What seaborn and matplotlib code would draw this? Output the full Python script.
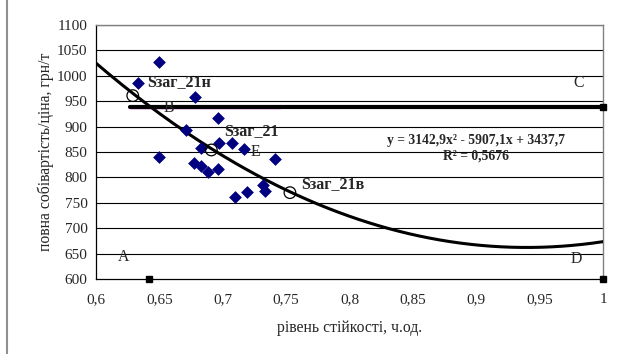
import numpy as np
import pandas as pd
import matplotlib.pyplot as plt
import seaborn as sns
from matplotlib.lines import Line2D

# --- data ---
stab_x = [0.650, 0.633, 0.678, 0.696, 0.671, 0.697, 0.7075, 0.683, 0.717, 0.741,
          0.650, 0.677, 0.683, 0.688, 0.696, 0.710, 0.719, 0.732, 0.733]
cost_y = [1027, 986, 959, 916, 893, 867, 867, 857, 855, 836,
          840, 829, 822, 810, 816, 762, 772, 786, 773]

# trend line coefficients printed on the chart (a*x^2 + b*x + c)
trend_coef = [3142.9, -5907.1, 3437.7]

# points on the trend line (open circles)
circle_x = [0.629, 0.691, 0.753]
circle_y = [961, 854, 770]

# threshold line and corner markers
level_y = 939
level_x = [0.627, 1.0]
magenta_x = [0.627, 0.745]
corner_x = [0.642, 1.0]
corner_y = [600, 600]

xticks = [0.6, 0.65, 0.7, 0.75, 0.8, 0.85, 0.9, 0.95, 1.0]
xtick_labels = ['0,6', '0,65', '0,7', '0,75', '0,8', '0,85', '0,9', '0,95', '1']
yticks = list(range(600, 1101, 50))

sns.set_theme(style='white')
plt.rcParams['font.family'] = ['Liberation Serif', 'DejaVu Serif']

fig = plt.figure(figsize=(6.24, 3.54), dpi=100)
ax = fig.add_axes([96 / 624, 1 - 279 / 354, 507 / 624, 254 / 354])

# grid
for yv in yticks[1:]:
    ax.axhline(yv, color='black', linewidth=0.8, zorder=1)

# trend curve
xs = np.linspace(0.6, 1.0, 200)
trend_df = pd.DataFrame({'x': xs, 'y': np.polyval(trend_coef, xs)})
sns.lineplot(data=trend_df, x='x', y='y', color='black', linewidth=2.2, ax=ax, zorder=4)

# horizontal level line
ax.plot(magenta_x, [level_y - 2, level_y - 2], color='#e000e0', linewidth=1.0, zorder=2)
ax.plot(level_x, [level_y, level_y], color='black', linewidth=3.0, zorder=3)
ax.plot([1.0], [level_y], marker='s', color='black', markersize=5, clip_on=False, zorder=5)
ax.plot(corner_x, corner_y, linestyle='none', marker='s', color='black', markersize=5,
        clip_on=False, zorder=5)

# scatter
pts = pd.DataFrame({'x': stab_x, 'y': cost_y})
sns.scatterplot(data=pts, x='x', y='y', marker='D', s=36, color='#000080',
                edgecolor='#000080', ax=ax, zorder=5)

# open circles on the curve
ax.scatter(circle_x, circle_y, s=70, facecolors='none', edgecolors='black', linewidths=0.9, zorder=6)

# annotations
bold = dict(fontsize=11.5, fontweight='bold')
ax.text(0.6405, 988, 'Sзаг_21н', ha='left', va='center', **bold)
ax.text(0.701, 891, 'Sзаг_21', ha='left', va='center', **bold)
ax.text(0.762, 787, 'Sзаг_21в', ha='left', va='center', **bold)
ax.text(0.653, 937, 'B', ha='left', va='center', fontsize=11.3)
ax.text(0.722, 850, 'E', ha='left', va='center', fontsize=11.3)
ax.text(0.981, 985, 'C', ha='center', va='center', fontsize=11.3)
ax.text(0.622, 643, 'A', ha='center', va='center', fontsize=11.3)
ax.text(0.979, 640, 'D', ha='center', va='center', fontsize=11.3)
ax.text(0.9, 873, 'y = 3142,9x² - 5907,1x + 3437,7', ha='center', va='center', fontsize=9.8, fontweight='bold')
ax.text(0.9, 842, 'R² = 0,5676', ha='center', va='center', fontsize=9.8, fontweight='bold')

ax.set_xlim(0.6, 1.0)
ax.set_ylim(600, 1100)
ax.set_xticks(xticks)
ax.set_xticklabels(xtick_labels)
ax.set_yticks(yticks)
ax.tick_params(axis='x', direction='out', length=4, width=0.8, color='black', labelsize=11, pad=6)
ax.tick_params(axis='y', direction='inout', length=6, width=0.8, color='black', labelsize=11, pad=3)
ax.set_xlabel('рівень стійкості, ч.од.', fontsize=11.3, labelpad=10)
ax.set_ylabel('повна собівартість/ціна, грн/т', fontsize=11.3, labelpad=2)

for side in ['top', 'right']:
    ax.spines[side].set_color('#808080')
    ax.spines[side].set_linewidth(1.0)
for side in ['left', 'bottom']:
    ax.spines[side].set_color('black')
    ax.spines[side].set_linewidth(0.9)

# outer frame line on the left
fig.add_artist(Line2D([7 / 624, 7 / 624], [0, 1], color='#909090', linewidth=1.5))

fig.savefig('out.png', dpi=100)
